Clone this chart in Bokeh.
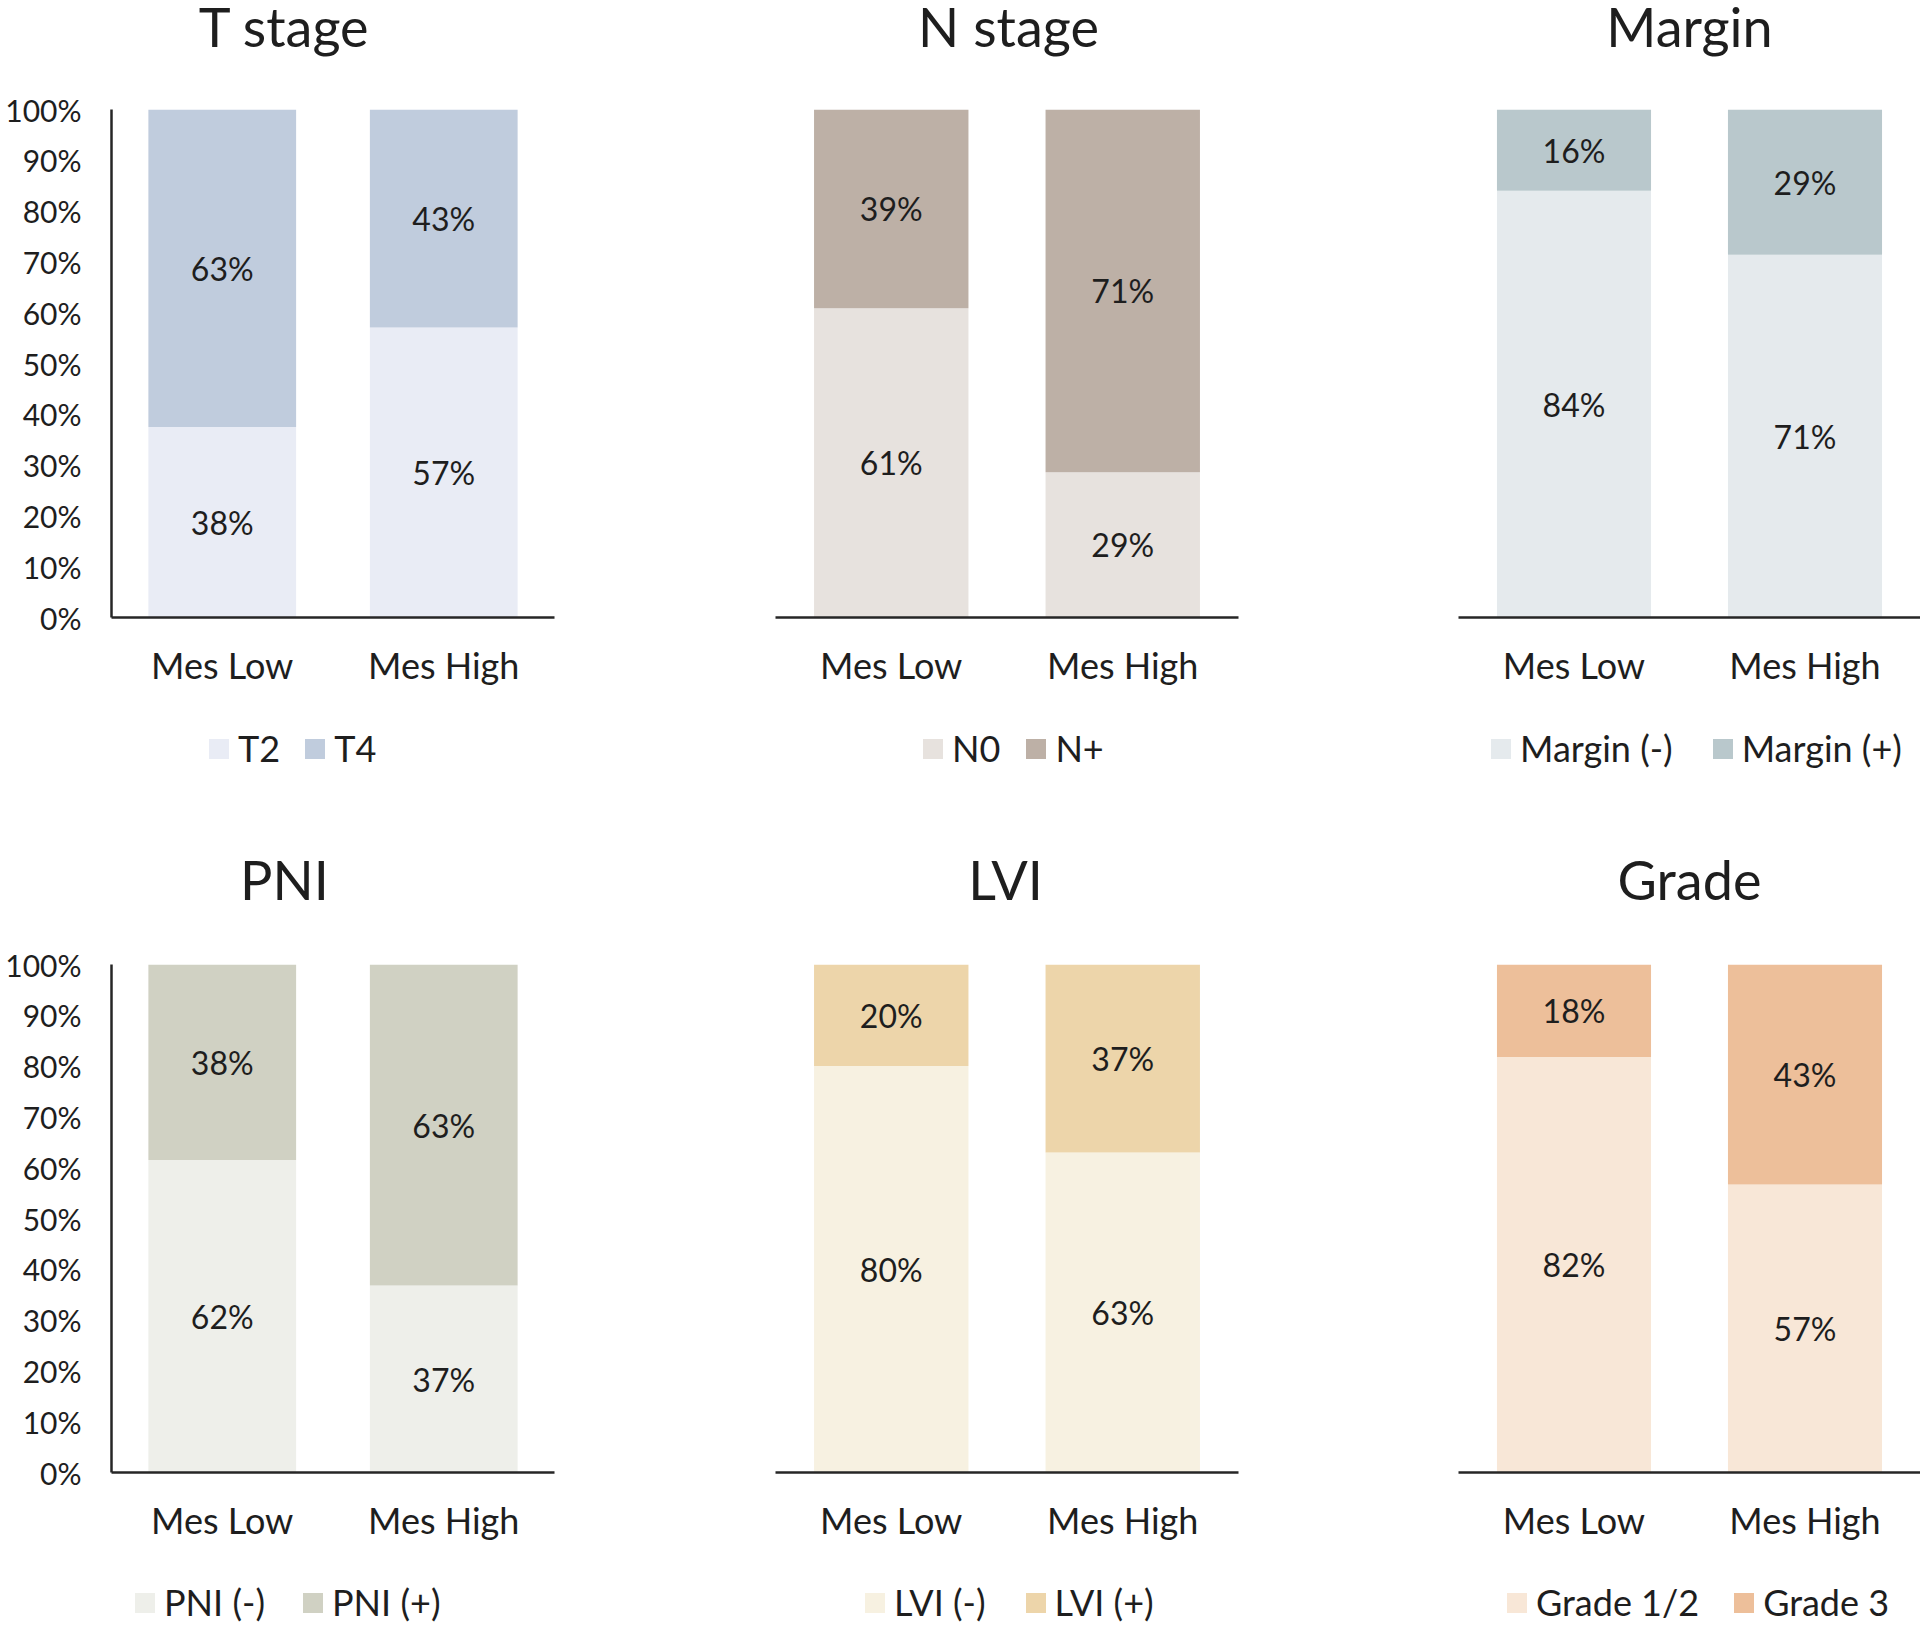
from bokeh.plotting import figure
from bokeh.models import (ColumnDataSource, FactorRange, Range1d, FixedTicker,
                          Legend, LegendItem, LabelSet, Label)
from bokeh.core.properties import value
from bokeh.layouts import column, row
from bokeh.embed import file_html
from bokeh.resources import INLINE

# ---------------- data ----------------
groups = ["Mes Low", "Mes High"]
y_ticks = [0, 10, 20, 30, 40, 50, 60, 70, 80, 90, 100]
y_tick_labels = ["0%", "10%", "20%", "30%", "40%", "50%", "60%", "70%", "80%", "90%", "100%"]

titles = ["T stage", "N stage", "Margin", "PNI", "LVI", "Grade"]

t_names = ["T2", "T4"]
t2 = [37.5, 57.1]
t4 = [62.5, 42.9]

n_names = ["N0", "N+"]
n0 = [60.9, 28.6]
npos = [39.1, 71.4]

margin_names = ["Margin (-)", "Margin (+)"]
margin_neg = [84.0, 71.4]
margin_pos = [16.0, 28.6]

pni_names = ["PNI (-)", "PNI (+)"]
pni_neg = [61.54, 36.8]
pni_pos = [38.46, 63.2]

lvi_names = ["LVI (-)", "LVI (+)"]
lvi_neg = [80.0, 63.0]
lvi_pos = [20.0, 37.0]

grade_names = ["Grade 1/2", "Grade 3"]
grade_12 = [81.8, 56.7]
grade_3 = [18.2, 43.3]

panels = [
    (titles[0], t_names, t2, t4, ["#E9ECF5", "#C0CCDD"]),
    (titles[1], n_names, n0, npos, ["#E7E2DE", "#BDB0A6"]),
    (titles[2], margin_names, margin_neg, margin_pos, ["#E5EAED", "#B9C8CC"]),
    (titles[3], pni_names, pni_neg, pni_pos, ["#EEEFEA", "#D0D1C3"]),
    (titles[4], lvi_names, lvi_neg, lvi_pos, ["#F7F1E1", "#EDD5AA"]),
    (titles[5], grade_names, grade_12, grade_3, ["#F8E7D7", "#EDBF9A"]),
]

# ---------------- layout (page pixels) ----------------
FONT = "Lato"
INK = "#1e1e1e"
AXIS = "#262626"

W = 1920
col_bounds = [(0, 600, 111, 554), (600, 1290, 775, 1238), (1290, 1920, 1458, 1920)]
title_band = [(0, 60), (790, 915)]
chart_band = [(60, 700), (915, 1555)]
legend_band = [(700, 790), (1555, 1624)]
frame_top = [109, 964]
frame_h = 508
title_cx = [[284, 1008, 1689], [284, 1005, 1689]]
title_mid = [24.5, 877.5]
legend_left = [[209, 923, 1490], [134, 864, 1507]]
legend_gap = [[22, 23, 37], [35, 37, 32]]
legend_cy = [748, 1603]
LEG_H = 43
GLYPH = 25

sources = []
for (title, names, lower, upper, colors) in panels:
    sources.append(ColumnDataSource(dict(
        group=groups,
        lower=lower,
        upper=upper,
        lower_mid=[v / 2.0 for v in lower],
        upper_mid=[a + b / 2.0 for a, b in zip(lower, upper)],
        lower_txt=["%d%%" % int(v + 0.5) for v in lower],
        upper_txt=["%d%%" % int(v + 0.5) for v in upper],
    )))


def blank(width, height, x_range=None, y_range=None):
    p = figure(frame_width=width, frame_height=height,
               x_range=x_range if x_range is not None else Range1d(0, 1),
               y_range=y_range if y_range is not None else Range1d(0, 1),
               x_axis_location=None, y_axis_location=None, min_border=0,
               output_backend="svg", toolbar_location=None, tools="")
    p.outline_line_color = None
    p.xgrid.visible = False
    p.ygrid.visible = False
    p.background_fill_color = "white"
    p.border_fill_color = "white"
    return p


def make_chart(k):
    title, names, lower, upper, colors = panels[k]
    r, c = divmod(k, 3)
    cl, cr, fl, fr = col_bounds[c]
    b0, b1 = chart_band[r]
    fw = fr - fl
    bl = fl - cl
    br = (cr - cl) - fw - bl
    fh = frame_h
    bt = frame_top[r] - b0
    bb = (b1 - b0) - fh - bt

    p = figure(x_range=FactorRange(factors=groups, range_padding=0),
               y_range=Range1d(0, 100),
               frame_width=fw, frame_height=fh,
               min_border_left=bl, min_border_right=br,
               min_border_top=bt, min_border_bottom=bb,
               y_axis_location="left" if c == 0 else None,
               output_backend="svg", toolbar_location=None, tools="")
    p.outline_line_color = None
    p.xgrid.visible = False
    p.ygrid.visible = False
    p.background_fill_color = "white"
    p.border_fill_color = "white"

    src = sources[k]
    p.vbar_stack(["lower", "upper"], x="group", width=0.667,
                 fill_color=colors, line_color=None, source=src)

    for ycol, tcol in (("lower_mid", "lower_txt"), ("upper_mid", "upper_txt")):
        p.add_layout(LabelSet(x="group", y=ycol, text=tcol, source=src,
                              text_align="center", text_baseline="middle",
                              text_font=value(FONT), text_font_size=value("32px"),
                              text_color=INK))

    xa = p.xaxis[0]
    xa.axis_line_color = AXIS
    xa.axis_line_width = 2.5
    xa.major_tick_line_color = None
    xa.minor_tick_line_color = None
    xa.major_tick_out = 0
    xa.major_tick_in = 0
    xa.major_label_text_font = FONT
    xa.major_label_text_font_size = "36px"
    xa.major_label_text_color = INK
    xa.major_label_standoff = 25

    if c == 0:
        ya = p.yaxis[0]
        ya.ticker = FixedTicker(ticks=y_ticks)
        ya.major_label_overrides = {t: l for t, l in zip(y_ticks, y_tick_labels)}
        ya.axis_line_color = AXIS
        ya.axis_line_width = 2.5
        ya.major_tick_line_color = None
        ya.minor_tick_line_color = None
        ya.major_tick_out = 0
        ya.major_tick_in = 0
        ya.major_label_text_font = FONT
        ya.major_label_text_font_size = "30px"
        ya.major_label_text_color = INK
        ya.major_label_standoff = 30
    return p


def make_title_strip(r):
    t0, t1 = title_band[r]
    h = t1 - t0
    p = blank(W, h)
    for c in range(3):
        k = r * 3 + c
        p.add_layout(Label(x=title_cx[r][c], y=h - (title_mid[r] - t0) - 1,
                           x_units="screen", y_units="screen", text=panels[k][0],
                           text_align="center", text_baseline="middle",
                           text_font=FONT, text_font_size="54px", text_color=INK))
    return p


def make_legend_strip(r):
    l0, l1 = legend_band[r]
    h = l1 - l0
    # bars are stacked from 0 to 100: a range far above keeps these legend proxies out of view
    p = blank(W, h, x_range=FactorRange(factors=groups), y_range=Range1d(1000, 1001))
    for c in range(3):
        k = r * 3 + c
        title, names, lower, upper, colors = panels[k]
        rends = p.vbar_stack(["lower", "upper"], x="group", width=0.667,
                             fill_color=colors, line_color=None, source=sources[k])
        bottom = int(round(h - (legend_cy[r] - l0) - LEG_H / 2.0))
        leg = Legend(items=[LegendItem(label=n, renderers=[rr]) for n, rr in zip(names, rends)],
                     location=(int(round(legend_left[r][c] - GLYPH * 0.1)), bottom),
                     orientation="horizontal", padding=0, margin=0,
                     border_line_color=None, background_fill_alpha=0,
                     glyph_width=GLYPH, glyph_height=GLYPH, label_standoff=7,
                     spacing=legend_gap[r][c],
                     label_text_font=FONT, label_text_font_size="36px",
                     label_text_color=INK)
        p.add_layout(leg)
    return p


charts = [make_chart(k) for k in range(6)]
layout = column(make_title_strip(0), row(*charts[:3]), make_legend_strip(0),
                make_title_strip(1), row(*charts[3:]), make_legend_strip(1))

open("out.html", "w").write(file_html(layout, INLINE))
